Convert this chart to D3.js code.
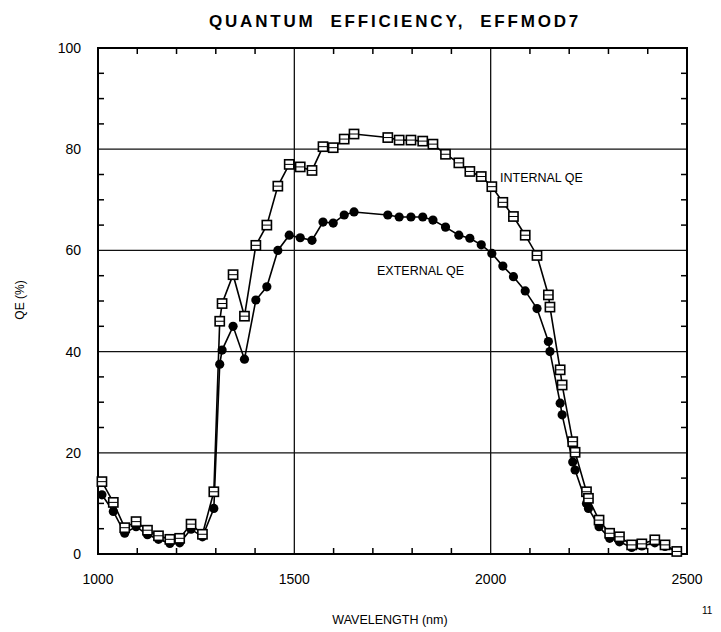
<!DOCTYPE html>
<html>
<head>
<meta charset="utf-8">
<script src="https://cdn.jsdelivr.net/npm/d3@7"></script>
<style>
  html, body { margin: 0; padding: 0; background: #fff; }
  svg { display: block; }
  text { font-family: "Liberation Sans", Arial, Helvetica, sans-serif; fill: #000; }
</style>
</head>
<body>
<svg id="chart" width="721" height="632"></svg>
<script>
// ---- data ----
const wavelengths = [1010, 1039, 1068, 1097, 1126, 1154, 1183, 1208, 1237, 1266, 1295, 1310, 1316, 1344, 1373, 1402, 1430, 1458, 1487, 1515, 1545, 1573, 1599, 1627, 1652, 1738, 1767, 1797, 1827, 1853, 1885, 1919, 1947, 1976, 2003, 2031, 2058, 2088, 2118, 2147, 2151, 2177, 2182, 2209, 2215, 2244, 2249, 2276, 2303, 2328, 2359, 2385, 2418, 2444, 2474];
const internalQE = [14.3, 10.2, 5.2, 6.4, 4.7, 3.6, 2.9, 3.1, 5.9, 3.9, 12.3, 46, 49.5, 55.2, 47, 61, 65, 72.7, 77, 76.5, 75.8, 80.5, 80.3, 82, 83, 82.3, 81.8, 81.8, 81.6, 81, 79, 77.3, 75.6, 74.6, 72.6, 69.5, 66.7, 63, 59, 51.2, 48.8, 36.4, 33.4, 22.2, 20.1, 12.3, 11, 6.7, 4.1, 3.4, 1.8, 2.0, 2.8, 1.8, 0.5];
const externalQE = [11.7, 8.4, 4.1, 5.4, 3.8, 2.9, 2.1, 2.2, 4.9, 3.4, 9.0, 37.5, 40.3, 45, 38.5, 50.2, 52.8, 60, 63, 62.5, 62, 65.6, 65.4, 67, 67.6, 67, 66.6, 66.6, 66.6, 66, 64.6, 63, 62.4, 61.1, 59.4, 56.9, 54.8, 52, 48.5, 42, 40, 29.8, 27.5, 18.2, 16.6, 10, 9, 5.4, 3.1, 2.4, 1.3, 1.6, 2.2, 1.5, 0.5];
const xTicks = [1000, 1500, 2000, 2500];
const yTicks = [0, 20, 40, 60, 80, 100];
const titleText = "QUANTUM  EFFICIENCY,  EFFMOD7";
const xLabel = "WAVELENGTH (nm)";
const yLabel = "QE (%)";
const internalLabel = "INTERNAL QE";
const externalLabel = "EXTERNAL QE";
const pageNumber = "11";

// ---- layout ----
const svg = d3.select("#chart");
const L = 98, R = 687, T = 48, B = 554;
const x = d3.scaleLinear().domain([1000, 2500]).range([L, R]);
const y = d3.scaleLinear().domain([0, 100]).range([B, T]);

// grid lines
const g = svg.append("g");
g.selectAll("line.vg").data([1500, 2000]).enter().append("line")
  .attr("x1", d => x(d)).attr("x2", d => x(d)).attr("y1", T).attr("y2", B)
  .attr("stroke", "#111").attr("stroke-width", 1.3);
g.selectAll("line.hg").data([20, 40, 60, 80]).enter().append("line")
  .attr("x1", L).attr("x2", R).attr("y1", d => y(d)).attr("y2", d => y(d))
  .attr("stroke", "#111").attr("stroke-width", 1.3);

// minor ticks (inward)
const xMinor = d3.range(1100, 2500, 100).filter(v => v % 500 !== 0);
const yMinor = d3.range(5, 100, 5).filter(v => v % 20 !== 0);
g.selectAll("line.xt").data(xMinor).enter().append("line")
  .attr("x1", d => x(d)).attr("x2", d => x(d)).attr("y1", T).attr("y2", T + 6)
  .attr("stroke", "#000").attr("stroke-width", 1.5);
g.selectAll("line.xb").data(xMinor).enter().append("line")
  .attr("x1", d => x(d)).attr("x2", d => x(d)).attr("y1", B).attr("y2", B - 6)
  .attr("stroke", "#000").attr("stroke-width", 1.5);
g.selectAll("line.yl").data(yMinor).enter().append("line")
  .attr("x1", L).attr("x2", L + 6).attr("y1", d => y(d)).attr("y2", d => y(d))
  .attr("stroke", "#000").attr("stroke-width", 1.5);
g.selectAll("line.yr").data(yMinor).enter().append("line")
  .attr("x1", R).attr("x2", R - 6).attr("y1", d => y(d)).attr("y2", d => y(d))
  .attr("stroke", "#000").attr("stroke-width", 1.5);

// frame
g.append("rect").attr("x", L).attr("y", T).attr("width", R - L).attr("height", B - T)
  .attr("fill", "none").attr("stroke", "#000").attr("stroke-width", 2);

// tick labels
svg.selectAll("text.xl").data(xTicks).enter().append("text")
  .attr("x", d => x(d)).attr("y", 584).attr("text-anchor", "middle")
  .attr("font-size", 14).text(d => d);
svg.selectAll("text.yl").data(yTicks).enter().append("text")
  .attr("x", 81).attr("y", d => y(d) + 5).attr("text-anchor", "end")
  .attr("font-size", 14).text(d => d);

// series lines
const internal = wavelengths.map((w, i) => [w, internalQE[i]]);
const external = wavelengths.map((w, i) => [w, externalQE[i]]);
const line = d3.line().x(d => x(d[0])).y(d => y(d[1]));
svg.append("path").attr("d", line(internal)).attr("fill", "none")
  .attr("stroke", "#000").attr("stroke-width", 1.6);
svg.append("path").attr("d", line(external)).attr("fill", "none")
  .attr("stroke", "#000").attr("stroke-width", 1.6);

// markers
svg.selectAll("circle.ext").data(external).enter().append("circle")
  .attr("cx", d => x(d[0])).attr("cy", d => y(d[1])).attr("r", 4.6)
  .attr("fill", "#000");
const sq = svg.selectAll("g.int").data(internal).enter().append("g")
  .attr("transform", d => `translate(${x(d[0])},${y(d[1])})`);
sq.append("rect").attr("x", -4.6).attr("y", -4.6).attr("width", 9.2).attr("height", 9.2)
  .attr("fill", "#fff").attr("stroke", "#000").attr("stroke-width", 1.6);
sq.append("line").attr("x1", -4.6).attr("x2", 4.6).attr("y1", 0).attr("y2", 0)
  .attr("stroke", "#000").attr("stroke-width", 1);

// annotations
svg.append("text").attr("x", 500).attr("y", 182).attr("font-size", 12.5).text(internalLabel);
svg.append("text").attr("x", 377).attr("y", 275).attr("font-size", 12.5).text(externalLabel);

// title and axis labels
svg.append("text").attr("x", 395).attr("y", 27).attr("text-anchor", "middle")
  .attr("font-size", 17).attr("font-weight", "bold").attr("letter-spacing", 2.8)
  .style("white-space", "pre").text(titleText);
svg.append("text").attr("x", 390).attr("y", 624).attr("text-anchor", "middle")
  .attr("font-size", 12.5).text(xLabel);
svg.append("text").attr("transform", "translate(24,300) rotate(-90)")
  .attr("text-anchor", "middle").attr("font-size", 12).text(yLabel);
svg.append("text").attr("x", 702).attr("y", 614).attr("font-size", 10).text(pageNumber);
</script>
</body>
</html>
